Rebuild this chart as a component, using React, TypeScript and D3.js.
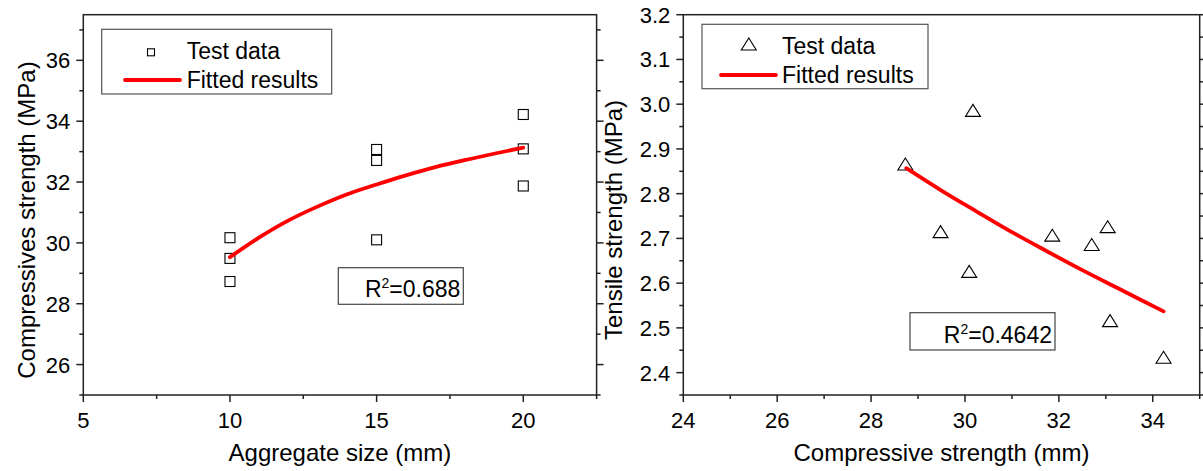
import React from "react";
import * as d3 from "d3";

// ---- Left panel data ----
const aggSize = [10, 10, 10, 15, 15, 15, 20, 20, 20];
const compStrength = [30.17, 29.49, 28.73, 33.07, 32.71, 30.1, 34.22, 33.09, 31.87];
const fitLeftX = [10, 11, 12, 13, 14, 15, 16, 17, 18, 19, 20];
const fitLeftY = [29.53, 30.18, 30.74, 31.2, 31.6, 31.92, 32.22, 32.49, 32.72, 32.93, 33.13];
const leftXTicks = [5, 10, 15, 20];
const leftXMinor = [7.5, 12.5, 17.5, 22.5];
const leftYTicks = [26, 28, 30, 32, 34, 36];
const leftYMinor = [25, 27, 29, 31, 33, 35, 37];

// ---- Right panel data ----
const compX = [28.73, 29.48, 30.17, 30.09, 31.86, 32.7, 33.04, 33.09, 34.23];
const tensileY = [2.864, 2.713, 2.984, 2.624, 2.705, 2.684, 2.724, 2.514, 2.432];
const fitRightX = [28.75, 29.5, 30.25, 31, 31.75, 32.5, 33.25, 34.23];
const fitRightY = [2.857, 2.807, 2.76, 2.714, 2.671, 2.629, 2.589, 2.537];
const rightXTicks = [24, 26, 28, 30, 32, 34];
const rightXMinor = [25, 27, 29, 31, 33, 35];
const rightYTicks = [2.4, 2.5, 2.6, 2.7, 2.8, 2.9, 3.0, 3.1, 3.2];
const rightYMinor = [2.35, 2.45, 2.55, 2.65, 2.75, 2.85, 2.95, 3.05, 3.15];

const FONT = "'Liberation Sans', Arial, Helvetica, sans-serif";
const FRAME = "#222";

type PanelProps = {
  x0: number; x1: number; y0: number; y1: number;
  xDom: [number, number]; yDom: [number, number];
  xTicks: number[]; xMinor: number[]; yTicks: number[]; yMinor: number[];
  yFmt: (v: number) => string;
  xTitle: string; yTitle: string; yTitleX: number; yTitleY: number;
  children: (x: d3.ScaleLinear<number, number>, y: d3.ScaleLinear<number, number>) => React.ReactNode;
};

function Panel(p: PanelProps) {
  const x = d3.scaleLinear().domain(p.xDom).range([p.x0, p.x1]);
  const y = d3.scaleLinear().domain(p.yDom).range([p.y1, p.y0]);
  const MAJ = 7, MIN = 4;
  return (
    <g>
      {p.children(x, y)}
      <rect x={p.x0} y={p.y0} width={p.x1 - p.x0} height={p.y1 - p.y0} fill="none" stroke={FRAME} strokeWidth={1.5} />
      {p.xTicks.map((t) => (
        <g key={"xt" + t}>
          <line x1={x(t)} x2={x(t)} y1={p.y1} y2={p.y1 + MAJ} stroke={FRAME} strokeWidth={1.5} />
          <text x={x(t)} y={p.y1 + 32.5} textAnchor="middle" fontSize={22} fontFamily={FONT} fill="#000">{t}</text>
        </g>
      ))}
      {p.xMinor.map((t) => (
        <line key={"xm" + t} x1={x(t)} x2={x(t)} y1={p.y1} y2={p.y1 + MIN} stroke={FRAME} strokeWidth={1.5} />
      ))}
      {p.yTicks.map((t) => (
        <g key={"yt" + t}>
          <line x1={p.x0 - MAJ} x2={p.x0} y1={y(t)} y2={y(t)} stroke={FRAME} strokeWidth={1.5} />
          <line x1={p.x1} x2={p.x1 + MAJ} y1={y(t)} y2={y(t)} stroke={FRAME} strokeWidth={1.5} />
          <text x={p.x0 - 13} y={y(t) + 8} textAnchor="end" fontSize={22} fontFamily={FONT} fill="#000">{p.yFmt(t)}</text>
        </g>
      ))}
      {p.yMinor.map((t) => (
        <g key={"ym" + t}>
          <line x1={p.x0 - MIN} x2={p.x0} y1={y(t)} y2={y(t)} stroke={FRAME} strokeWidth={1.5} />
          <line x1={p.x1} x2={p.x1 + MIN} y1={y(t)} y2={y(t)} stroke={FRAME} strokeWidth={1.5} />
        </g>
      ))}
      <text x={(p.x0 + p.x1) / 2} y={p.y1 + 66} textAnchor="middle" fontSize={24} fontFamily={FONT} fill="#000">{p.xTitle}</text>
      <text transform={`translate(${p.yTitleX},${p.yTitleY}) rotate(-90)`} textAnchor="middle" fontSize={24} fontFamily={FONT} fill="#000">{p.yTitle}</text>
    </g>
  );
}

function R2Box({ x, y, w, h, value }: { x: number; y: number; w: number; h: number; value: string }) {
  return (
    <g>
      <rect x={x} y={y} width={w} height={h} fill="#fff" stroke="#444" strokeWidth={1.2} />
      <text x={x + w - 3} y={y + h - 7} textAnchor="end" fontSize={23} fontFamily={FONT} fill="#000">
        R<tspan fontSize={14} dy={-9}>2</tspan><tspan dy={9}>={value}</tspan>
      </text>
    </g>
  );
}

function triPath(cx: number, cy: number) {
  const p = d3.path();
  p.moveTo(cx, cy - 7);
  p.lineTo(cx + 7.5, cy + 5);
  p.lineTo(cx - 7.5, cy + 5);
  p.closePath();
  return p.toString();
}

export default function App() {
  const line = d3.line<[number, number]>().curve(d3.curveCatmullRom);
  return (
    <svg width={1203} height={471} style={{ position: "absolute", left: 0, top: 0, background: "#fff" }}>
      <rect width={1203} height={471} fill="#fff" />
      <Panel
        x0={83.3} x1={596.6} y0={14.7} y1={395}
        xDom={[5, 22.5]} yDom={[25, 37.5]}
        xTicks={leftXTicks} xMinor={leftXMinor} yTicks={leftYTicks} yMinor={leftYMinor}
        yFmt={(v) => String(v)}
        xTitle="Aggregate size (mm)" yTitle="Compressives strength (MPa)" yTitleX={35} yTitleY={220}
      >
        {(x, y) => (
          <g>
            {aggSize.map((a, i) => (
              <rect key={i} x={x(a) - 5} y={y(compStrength[i]) - 5} width={10} height={10} fill="none" stroke="#000" strokeWidth={1.1} />
            ))}
            <path d={line(fitLeftX.map((v, i) => [x(v), y(fitLeftY[i])]) as [number, number][]) || ""} fill="none" stroke="#ff0000" strokeWidth={3.8} strokeLinecap="round" />
            <R2Box x={338.3} y={267.7} w={125} h={36.6} value="0.688" />
            <rect x={101.7} y={29.3} width={230} height={64.7} fill="#fff" stroke="#555" strokeWidth={1.2} />
            <rect x={147.5} y={48.8} width={7} height={7} fill="none" stroke="#000" strokeWidth={1.1} />
            <text x={186.7} y={59.3} fontSize={23} fontFamily={FONT} fill="#000">Test data</text>
            <line x1={125} x2={180} y1={80} y2={80} stroke="#ff0000" strokeWidth={3.8} strokeLinecap="round" />
            <text x={186.7} y={88.3} fontSize={23} fontFamily={FONT} fill="#000">Fitted results</text>
          </g>
        )}
      </Panel>
      <Panel
        x0={683.3} x1={1199.7} y0={14.7} y1={395}
        xDom={[24, 35]} yDom={[2.35, 3.2]}
        xTicks={rightXTicks} xMinor={rightXMinor} yTicks={rightYTicks} yMinor={rightYMinor}
        yFmt={(v) => v.toFixed(1)}
        xTitle="Compressive strength (mm)" yTitle="Tensile strength (MPa)" yTitleX={622} yTitleY={220}
      >
        {(x, y) => (
          <g>
            {compX.map((c, i) => (
              <path key={i} d={triPath(x(c), y(tensileY[i]))} fill="none" stroke="#000" strokeWidth={1.1} />
            ))}
            <path d={line(fitRightX.map((v, i) => [x(v), y(fitRightY[i])]) as [number, number][]) || ""} fill="none" stroke="#ff0000" strokeWidth={3.8} strokeLinecap="round" />
            <R2Box x={910} y={312.7} w={145} h={37.3} value="0.4642" />
            <rect x={702} y={24.3} width={226} height={64.4} fill="#fff" stroke="#555" strokeWidth={1.2} />
            <path d={triPath(748.8, 45)} fill="none" stroke="#000" strokeWidth={1.1} />
            <text x={782} y={53.5} fontSize={23} fontFamily={FONT} fill="#000">Test data</text>
            <line x1={721} x2={776} y1={75} y2={75} stroke="#ff0000" strokeWidth={3.8} strokeLinecap="round" />
            <text x={782} y={82.7} fontSize={23} fontFamily={FONT} fill="#000">Fitted results</text>
          </g>
        )}
      </Panel>
    </svg>
  );
}
